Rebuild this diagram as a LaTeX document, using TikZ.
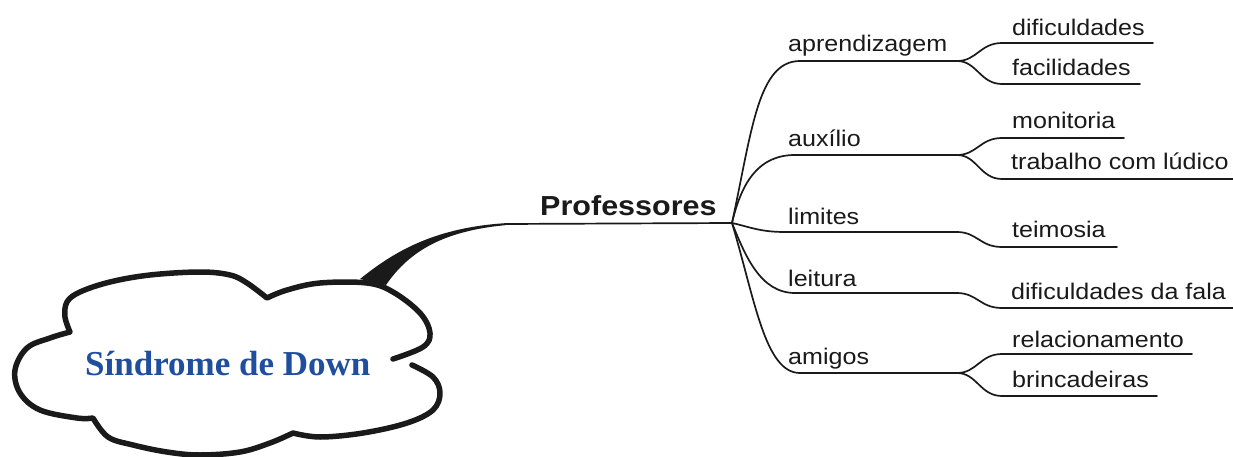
\documentclass[tikz,border=0pt]{standalone}
\usepackage{fontspec}
\newfontfamily\labelfont{Liberation Sans}[FakeStretch=1.11]
\newfontfamily\titlefont{Liberation Serif}
\definecolor{ink}{HTML}{1A1A1A}
\definecolor{cloudblue}{HTML}{1F4E9E}

\begin{document}
\begin{tikzpicture}[x=1pt,y=-1pt,
  branch/.style={draw=ink,line width=1.7pt,line cap=round,line join=round},
  cloudline/.style={draw=ink,line width=5.5pt,line cap=round,line join=round},
  leaf/.style={anchor=base west,inner sep=0pt,text=ink,
    font=\labelfont\fontsize{22.6}{27}\selectfont},
  topic/.style={anchor=base west,inner sep=0pt,text=ink,
    font=\labelfont\bfseries\fontsize{27.5}{32}\selectfont},
  title/.style={anchor=base west,inner sep=0pt,text=cloudblue,
    font=\titlefont\bfseries\fontsize{35}{40}\selectfont}]

\fill[white] (0,0) rectangle (1233,457);
\useasboundingbox (0,0) rectangle (1233,457);

% ---------- cloud ----------
\draw[cloudline]
  plot[smooth,tension=0.6] coordinates {(412,365) (433,377) (440,393) (433,410) (407,423) (363,433) (320,437) (293,433)}
  -- plot[smooth,tension=0.6] coordinates {(293,433) (270,443) (240,452) (200,455) (167,452) (133,445) (108,437) (93,418)}
  -- plot[smooth,tension=0.6] coordinates {(93,418) (77,418) (40,410) (20,393) (15,370) (27,348) (50,338) (70,332)}
  -- plot[smooth,tension=0.6] coordinates {(70,332) (65,317) (67,302) (80,292) (110,282) (150,275) (200,272) (230,275) (247,283) (267,298)}
  -- plot[smooth,tension=0.6] coordinates {(267,298) (287,290) (320,283) (367,283) (393,292) (420,313) (430,333) (423,347) (393,359)};

\node[title] (sd) at (85,375) {Síndrome de Down};

% ---------- main connector ----------
\coordinate (cloudtop) at (372,282);
\coordinate (taper) at (505,224);
\coordinate (hub) at (732,223);
\fill[ink] (cloudtop) ++(-12,-3) .. controls (390,255) and (430,228) .. (505,223.2)
  -- (505,225.2) .. controls (445,231) and (410,250) .. (386,285) -- cycle;
\draw[branch] (taper) -- (hub);

\node[topic] (prof) at (540,215) {Professores};

% ---------- first level ----------
\coordinate (apr-s) at (800,61);  \coordinate (apr-e) at (957,61);
\coordinate (aux-s) at (795,155); \coordinate (aux-e) at (957,155);
\coordinate (lim-s) at (785,232); \coordinate (lim-e) at (957,232);
\coordinate (lei-s) at (795,293); \coordinate (lei-e) at (957,293);
\coordinate (ami-s) at (800,373); \coordinate (ami-e) at (957,373);

\node[leaf] (apr) at (788,52)  {aprendizagem};
\node[leaf] (aux) at (788,147) {auxílio};
\node[leaf] (lim) at (788,224) {limites};
\node[leaf] (lei) at (788,286) {leitura};
\node[leaf] (ami) at (788,364) {amigos};

\draw[branch] (hub) .. controls (752,130) and (758,61) .. (apr-s) -- (apr-e);
\draw[branch] (hub) .. controls (742,180) and (760,155) .. (aux-s) -- (aux-e);
\draw[branch] (hub) .. controls (750,227) and (760,232) .. (lim-s) -- (lim-e);
\draw[branch] (hub) .. controls (745,255) and (760,293) .. (lei-s) -- (lei-e);
\draw[branch] (hub) .. controls (755,300) and (765,373) .. (ami-s) -- (ami-e);

% ---------- second level ----------
\coordinate (dif-s) at (1002,43);  \coordinate (dif-e) at (1153,43);
\coordinate (fac-s) at (1002,84);  \coordinate (fac-e) at (1140,84);
\coordinate (mon-s) at (1002,138); \coordinate (mon-e) at (1124,138);
\coordinate (tra-s) at (1002,179); \coordinate (tra-e) at (1233,179);
\coordinate (tei-s) at (1002,247); \coordinate (tei-e) at (1117,247);
\coordinate (fal-s) at (1002,308); \coordinate (fal-e) at (1233,308);
\coordinate (rel-s) at (1002,354); \coordinate (rel-e) at (1192,354);
\coordinate (bri-s) at (1002,396); \coordinate (bri-e) at (1157,396);

\node[leaf] (dif) at (1012,36)  {dificuldades};
\node[leaf] (fac) at (1012,76)  {facilidades};
\node[leaf] (mon) at (1012,129) {monitoria};
\node[leaf] (tra) at (1011,170) {trabalho com lúdico};
\node[leaf] (tei) at (1012,237) {teimosia};
\node[leaf] (fal) at (1011,299) {dificuldades da fala};
\node[leaf] (rel) at (1012,347) {relacionamento};
\node[leaf] (bri) at (1012,387) {brincadeiras};

\draw[branch] (apr-e) .. controls +(20,0) and +(-22,0) .. (dif-s) -- (dif-e);
\draw[branch] (apr-e) .. controls +(20,0) and +(-22,0) .. (fac-s) -- (fac-e);
\draw[branch] (aux-e) .. controls +(20,0) and +(-22,0) .. (mon-s) -- (mon-e);
\draw[branch] (aux-e) .. controls +(20,0) and +(-22,0) .. (tra-s) -- (tra-e);
\draw[branch] (lim-e) .. controls +(20,0) and +(-22,0) .. (tei-s) -- (tei-e);
\draw[branch] (lei-e) .. controls +(20,0) and +(-22,0) .. (fal-s) -- (fal-e);
\draw[branch] (ami-e) .. controls +(20,0) and +(-22,0) .. (rel-s) -- (rel-e);
\draw[branch] (ami-e) .. controls +(20,0) and +(-22,0) .. (bri-s) -- (bri-e);
\end{tikzpicture}
\end{document}
